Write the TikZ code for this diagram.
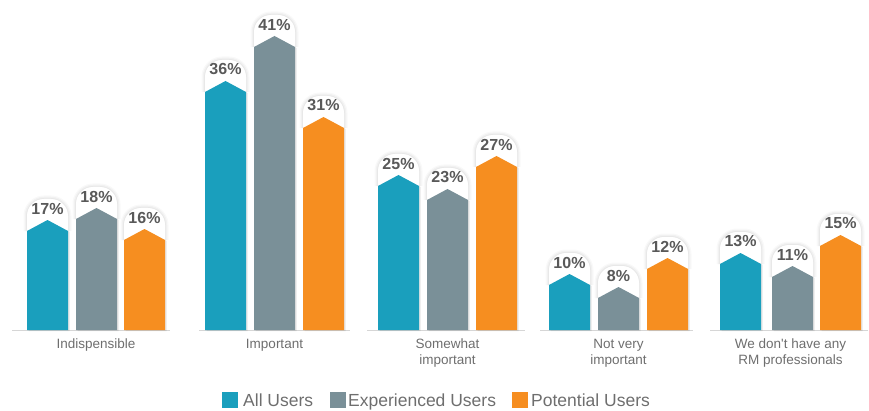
\documentclass[tikz,border=0pt]{standalone}
\usepackage{fontspec}
\setmainfont{Liberation Sans}
\usetikzlibrary{positioning,shadows}
\definecolor{allusers}{HTML}{1A9FBD}
\definecolor{expusers}{HTML}{7A9098}
\definecolor{potusers}{HTML}{F68E20}
\definecolor{pcttext}{HTML}{595959}
\definecolor{cattext}{HTML}{6E6E6E}
\definecolor{axisgray}{HTML}{D6D6D6}
\tikzset{
	tab/.style={fill=white, rounded corners=17pt, preaction={draw=black, opacity=.025, line width=7pt}, preaction={draw=black, opacity=.03, line width=4.5pt}, preaction={draw=black, opacity=.035, line width=2pt}},
	roof/.style={drop shadow={opacity=.2, shadow xshift=1.5pt, shadow yshift=-1pt}},
	pct/.style={text=pcttext, font=\fontsize{16}{16}\selectfont\bfseries, inner sep=0pt},
	cat/.style={text=cattext, font=\fontsize{13.5}{16}\selectfont, align=center, anchor=north, inner sep=0pt},
	legbox/.style={minimum size=16pt, inner sep=0pt, anchor=south west},
	legtext/.style={text=cattext, font=\fontsize{17.5}{18}\selectfont, anchor=base west, inner sep=0pt},
	axisline/.style={draw=axisgray, line width=1pt}
}
\def\roofbar[#1](#2,#3)#4{%
	\fill[tab] (#2,80+#3) -- (#2,112+#3) -- (#2+41,112+#3) -- (#2+41,80+#3);
	\fill[#1, roof] (#2,80) -- (#2,80+#3) -- (#2+20.5,91+#3) -- (#2+41,80+#3) -- (#2+41,80) -- cycle;
	\node[pct] (v#4) at (#2+20.5,102.5+#3) {#4\%};
}

\begin{document}
\begin{tikzpicture}[x=1pt, y=1pt]
		%%%%% START %%%%%
		\useasboundingbox (0,0) rectangle (869,410);
		
		\draw[axisline] (12,79.5) -- (170,79.5);
		\draw[axisline] (199,79.5) -- (350,79.5);
		\draw[axisline] (367,79.5) -- (525,79.5);
		\draw[axisline] (540,79.5) -- (693,79.5);
		\draw[axisline] (710,79.5) -- (868,79.5);
		
		\roofbar[allusers](27,99){17}
		\roofbar[expusers](76,111){18}
		\roofbar[potusers](124,90){16}
		
		\roofbar[allusers](205,238){36}
		\roofbar[expusers](254,283){41}
		\roofbar[potusers](303,202){31}
		
		\roofbar[allusers](378,144){25}
		\roofbar[expusers](427,130){23}
		\roofbar[potusers](476,163){27}
		
		\roofbar[allusers](549,45){10}
		\roofbar[expusers](598,32){8}
		\roofbar[potusers](647,61){12}
		
		\roofbar[allusers](720,66){13}
		\roofbar[expusers](772,53){11}
		\roofbar[potusers](820,84){15}
		
		\node[cat] (indisp) at (96,71) {Indispensible};
		\node[cat] (imp) at (274.5,71) {Important};
		\node[cat] (somewhat) at (447.5,71) {Somewhat\\important};
		\node[cat] (notvery) at (618.5,71) {Not very\\important};
		\node[cat] (nopros) at (790.5,71) {We don\textquotesingle t have any\\RM professionals};
		
		\node[legbox, fill=allusers] (kall) at (222,2) {};
		\node[legtext] (tall) at (243,3.5) {All Users};
		\node[legbox, fill=expusers] (kexp) at (330,2) {};
		\node[legtext] (texp) at (348,3.5) {Experienced Users};
		\node[legbox, fill=potusers] (kpot) at (512,2) {};
		\node[legtext] (tpot) at (531,3.5) {Potential Users};
		
		%%%%% END %%%%%
	\end{tikzpicture}
\end{document}
